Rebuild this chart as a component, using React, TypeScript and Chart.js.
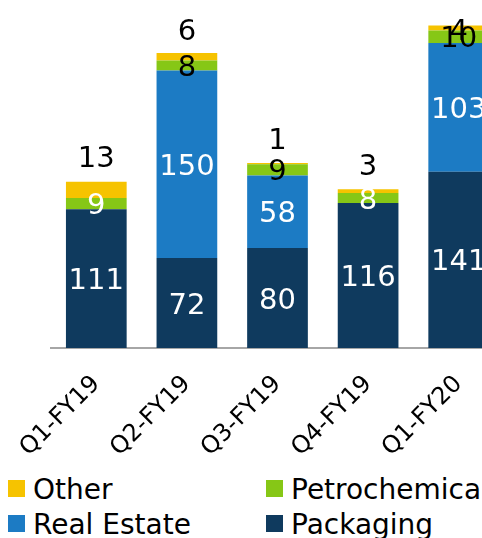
import React, { useEffect, useRef } from "react";
import { Chart, registerables } from "chart.js";

Chart.register(...registerables);

// Quarterly segment figures
const quarters = ["Q1-FY19", "Q2-FY19", "Q3-FY19", "Q4-FY19", "Q1-FY20"];
const packaging = [111, 72, 80, 116, 141];
const realEstate = [0, 150, 58, 0, 103];
const petrochemical = [9, 8, 9, 8, 10];
const other = [13, 6, 1, 3, 4];

const FONT = '"DejaVu Sans", sans-serif';

const COLORS = {
  packaging: "#0f3a5e",
  realEstate: "#1c7bc4",
  petrochemical: "#86c716",
  other: "#f6c300",
};

// Legend reads left-to-right, top-to-bottom
const legendItems = [
  { label: "Other", color: COLORS.other },
  { label: "Petrochemical", color: COLORS.petrochemical },
  { label: "Real Estate", color: COLORS.realEstate },
  { label: "Packaging", color: COLORS.packaging },
];

const LABEL_SIZE = 29;

const valueLabels = {
  id: "valueLabels",
  afterDatasetsDraw(chart: any) {
    const ctx = chart.ctx;
    ctx.save();
    ctx.font = `${LABEL_SIZE}px ${FONT}`;
    ctx.textAlign = "center";
    ctx.textBaseline = "alphabetic";
    const half = (LABEL_SIZE * 0.729) / 2;
    chart.data.datasets.forEach((ds: any, di: number) => {
      const meta = chart.getDatasetMeta(di);
      meta.data.forEach((bar: any, i: number) => {
        const v = ds.data[i];
        if (!v) return;
        const { x, y, base } = bar.getProps(["x", "y", "base"], true);
        let cy = (y + base) / 2;
        if (ds.labelAbove) {
          cy = Math.max(y - 25, chart.chartArea.top + 6);
        }
        const c = ds.labelColor;
        ctx.fillStyle = Array.isArray(c) ? c[i] : c;
        ctx.fillText(String(v), x, cy + half);
      });
    });
    ctx.restore();
  },
};

export default function App() {
  const canvasRef = useRef<HTMLCanvasElement | null>(null);

  useEffect(() => {
    if (!canvasRef.current) return;
    const chart = new Chart(canvasRef.current, {
      type: "bar",
      data: {
        labels: quarters,
        datasets: [
          {
            label: "Packaging",
            data: packaging,
            backgroundColor: COLORS.packaging,
            labelColor: "#ffffff",
          } as any,
          {
            label: "Real Estate",
            data: realEstate,
            backgroundColor: COLORS.realEstate,
            labelColor: "#ffffff",
          } as any,
          {
            label: "Petrochemical",
            data: petrochemical,
            backgroundColor: COLORS.petrochemical,
            labelColor: ["#ffffff", "#000000", "#000000", "#ffffff", "#000000"],
          } as any,
          {
            label: "Other",
            data: other,
            backgroundColor: COLORS.other,
            labelColor: "#000000",
            labelAbove: true,
          } as any,
        ],
      },
      options: {
        responsive: false,
        animation: false,
        datasets: {
          bar: { barPercentage: 0.67, categoryPercentage: 1 },
        },
        layout: { padding: { left: 51, right: 16, top: 23, bottom: 0 } },
        plugins: {
          legend: { display: false },
          tooltip: { enabled: false },
        },
        scales: {
          x: {
            stacked: true,
            grid: { display: false },
            border: { display: true, color: "#a6a6a6", width: 2 },
            ticks: {
              color: "#000000",
              font: { family: FONT, size: 24 },
              minRotation: 45,
              maxRotation: 45,
              padding: 14,
            },
            afterFit: (scale: any) => {
              scale.height = 110;
            },
          },
          y: {
            stacked: true,
            display: false,
            min: 0,
            max: 260,
          },
        },
      },
      plugins: [valueLabels],
    });
    return () => chart.destroy();
  }, []);

  return (
    <div
      style={{
        position: "fixed",
        left: 0,
        top: 0,
        width: 482,
        height: 538,
        overflow: "hidden",
        background: "#ffffff",
        fontFamily: FONT,
      }}
    >
      <canvas ref={canvasRef} width={520} height={458} style={{ display: "block" }} />
      {legendItems.map((item, i) => {
        const col = i % 2;
        const row = Math.floor(i / 2);
        const left = 8 + col * 258;
        const top = 480 + row * 35;
        return (
          <div key={item.label}>
            <div
              style={{
                position: "absolute",
                left,
                top,
                width: 17,
                height: 17,
                background: item.color,
              }}
            />
            <div
              style={{
                position: "absolute",
                left: left + 25,
                top: top - 3.7,
                fontSize: 28,
                lineHeight: "28px",
                whiteSpace: "nowrap",
                color: "#000000",
              }}
            >
              {item.label}
            </div>
          </div>
        );
      })}
    </div>
  );
}
